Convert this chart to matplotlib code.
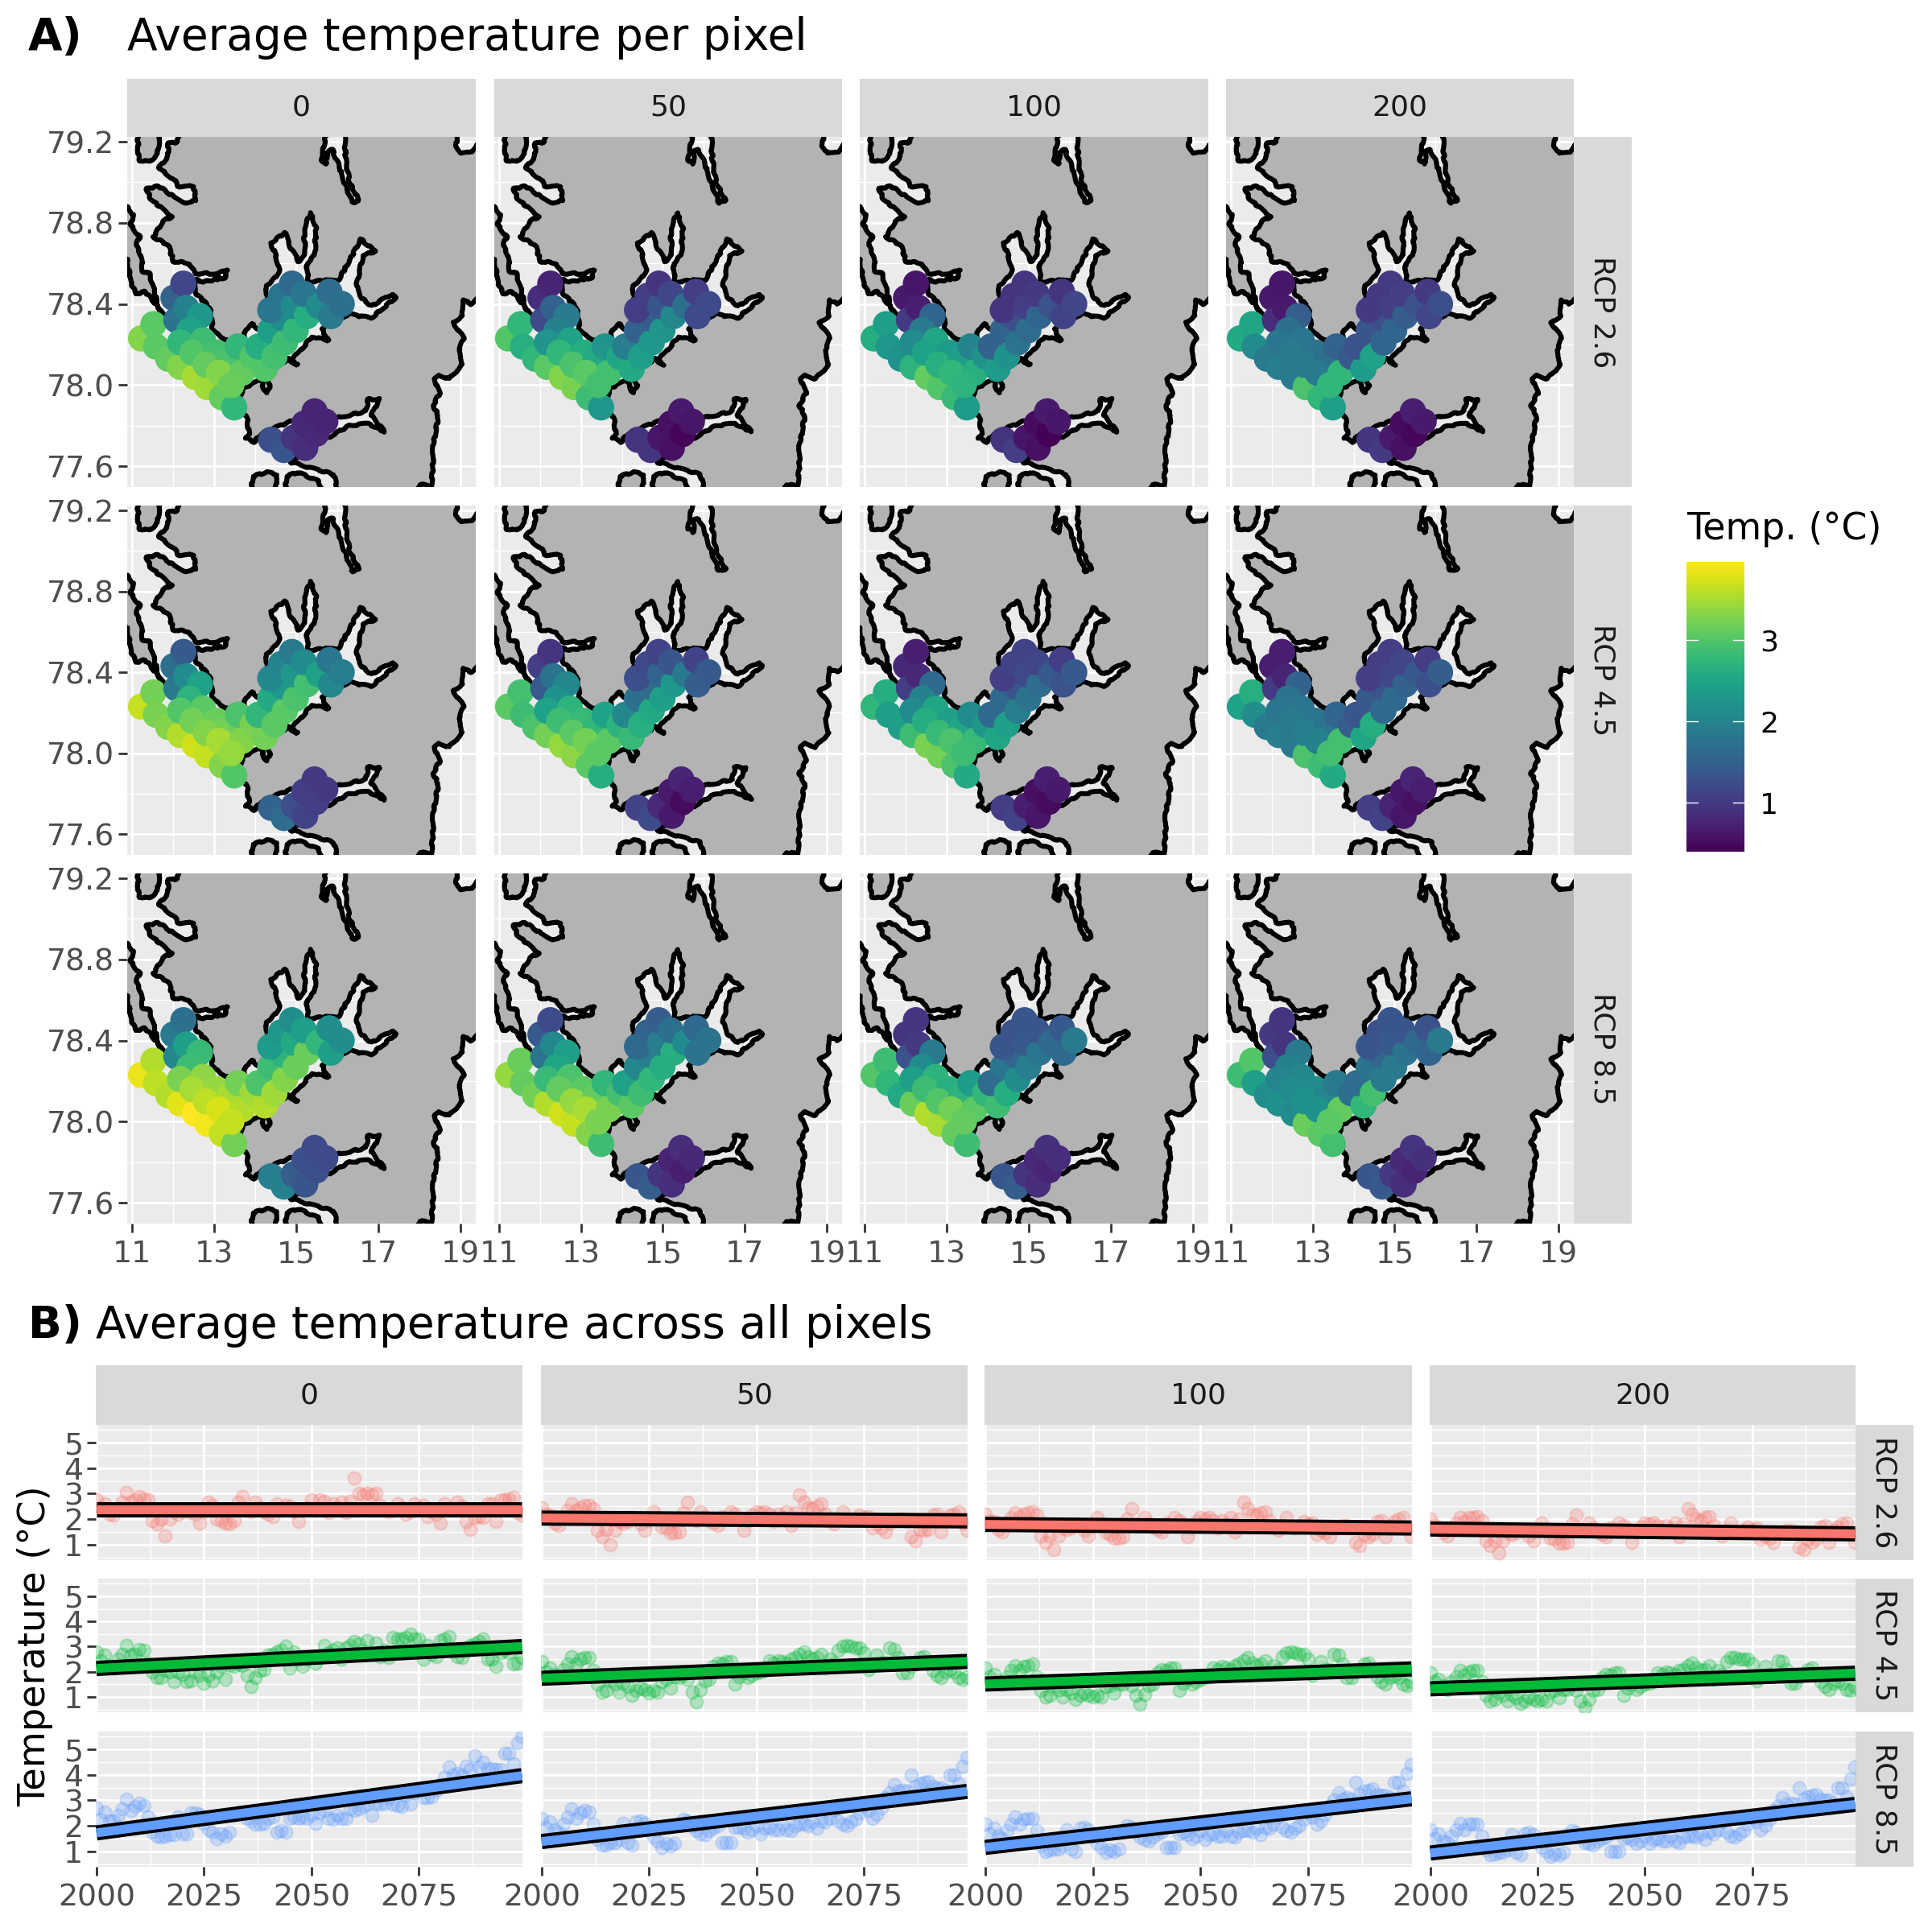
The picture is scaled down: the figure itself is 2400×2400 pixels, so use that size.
import numpy as np
import matplotlib
matplotlib.use("Agg")
import matplotlib.pyplot as plt
from matplotlib.patches import Polygon

depths = ["0", "50", "100", "200"]
scenarios = ["RCP 2.6", "RCP 4.5", "RCP 8.5"]
scenario_colors = ["#F8766D", "#00BA38", "#619CFF"]

# coastline (lon, lat)
coast_lon = [12.17, 12.11, 11.88, 11.88, 11.65, 12.04, 12.11, 12.50, 12.57, 12.30, 12.01, 11.65, 11.35, 11.45, 11.78, 11.98,
             11.75, 11.52, 11.88, 12.01, 12.40, 12.53, 13.09, 13.32, 13.26, 12.76, 12.50, 12.57, 12.90, 12.96, 13.12, 13.35,
             13.75, 13.75, 13.94, 14.11, 14.34, 14.27, 14.50, 14.60, 14.47, 14.37, 14.73, 14.86, 15.06, 15.22, 15.19, 15.35,
             15.49, 15.45, 15.26, 15.29, 16.04, 16.37, 16.57, 16.93, 16.63, 16.47, 16.60, 16.83, 17.35, 17.42, 16.83, 16.30,
             16.17, 15.62, 15.78, 15.39, 15.06, 14.86, 15.03, 14.80, 14.47, 14.21, 14.17, 14.27, 14.37, 14.27, 13.68, 13.65,
             13.81, 13.85, 13.75, 13.98, 14.14, 14.86, 15.78, 16.04, 16.70, 16.76, 17.03, 16.83, 17.16, 16.76, 16.30, 15.78,
             15.12, 14.86, 15.39, 15.91, 16.14, 17.68, 18.01, 18.30, 18.34, 18.34, 18.47, 18.34, 18.50, 18.37, 18.47, 18.73,
             19.06, 18.96, 19.09, 18.83, 19.06, 19.06, 19.26, 19.41, 19.70, 19.70, 19.41, 19.29, 19.03, 18.90, 18.96, 16.17,
             16.21, 16.30, 16.53, 16.37, 16.21, 16.01, 15.88, 15.75, 15.75, 15.62, 15.68, 15.78, 12.17]
coast_lat = [79.30, 79.20, 79.19, 79.13, 79.07, 79.01, 78.98, 78.98, 78.91, 78.90, 78.93, 78.98, 78.97, 78.92, 78.86, 78.83,
             78.81, 78.73, 78.69, 78.61, 78.60, 78.55, 78.55, 78.57, 78.53, 78.51, 78.52, 78.45, 78.38, 78.28, 78.24, 78.22,
             78.23, 78.27, 78.30, 78.27, 78.31, 78.49, 78.53, 78.57, 78.66, 78.70, 78.75, 78.68, 78.61, 78.64, 78.77, 78.85,
             78.77, 78.64, 78.60, 78.51, 78.52, 78.64, 78.72, 78.66, 78.64, 78.49, 78.43, 78.39, 78.45, 78.43, 78.33, 78.35,
             78.34, 78.28, 78.22, 78.24, 78.16, 78.12, 78.10, 78.13, 78.08, 78.04, 78.00, 77.96, 78.00, 78.04, 77.98, 77.90,
             77.83, 77.76, 77.74, 77.72, 77.76, 77.82, 77.82, 77.84, 77.87, 77.93, 77.93, 77.85, 77.77, 77.81, 77.80, 77.74,
             77.65, 77.62, 77.59, 77.56, 77.40, 77.40, 77.51, 77.50, 77.63, 77.70, 77.85, 77.90, 77.96, 78.03, 78.05, 78.03,
             78.10, 78.17, 78.23, 78.31, 78.34, 78.42, 78.40, 78.43, 78.43, 79.19, 79.19, 79.15, 79.14, 79.18, 79.30, 79.30,
             79.11, 79.00, 78.91, 78.90, 78.98, 79.10, 79.16, 79.15, 79.09, 79.11, 79.18, 79.30, 79.30]

forland_lon = [10.89, 11.03, 10.96, 11.19, 11.09, 11.22, 11.26, 11.42, 11.55, 11.65, 11.78, 11.62, 11.32, 11.09, 10.96, 10.89, 10.70, 10.70]
forland_lat = [78.88, 78.84, 78.79, 78.73, 78.69, 78.64, 78.56, 78.55, 78.46, 78.38, 78.34, 78.39, 78.46, 78.45, 78.51, 78.62, 78.62, 78.88]
north_lon = [11.12, 11.16, 11.42, 11.62, 11.71]
north_lat = [79.30, 79.11, 79.10, 79.14, 79.30]
south_a_lon = [13.88, 13.94, 14.27, 14.53, 14.47]
south_a_lat = [77.40, 77.55, 77.57, 77.56, 77.40]
south_b_lon = [14.73, 14.76, 15.03, 15.52, 15.91]
south_b_lat = [77.40, 77.55, 77.57, 77.53, 77.40]

# pixel centres
pixel_lon = [11.22, 11.52, 11.58, 11.88, 12.17, 12.53, 12.83, 13.19, 13.49, 12.01, 12.25, 12.08, 12.32, 12.65, 12.40, 12.17, 12.73,
             12.47, 13.06, 12.80, 13.35, 13.58, 13.12, 13.68, 13.42, 13.94, 14.24, 14.08, 14.47, 14.37, 14.73, 14.67, 14.99, 14.37,
             14.63, 14.94, 15.26, 14.90, 15.19, 15.55, 15.85, 15.81, 16.11, 14.39, 14.70, 14.94, 15.22, 15.20, 15.49, 15.45, 15.71]
pixel_lat = [78.23, 78.30, 78.19, 78.13, 78.09, 78.04, 77.99, 77.94, 77.89, 78.43, 78.50, 78.32, 78.38, 78.34, 78.27, 78.21, 78.22,
             78.16, 78.16, 78.10, 78.12, 78.19, 78.06, 78.06, 78.00, 78.14, 78.08, 78.19, 78.14, 78.27, 78.21, 78.33, 78.27, 78.37,
             78.44, 78.39, 78.34, 78.50, 78.45, 78.39, 78.34, 78.46, 78.40, 77.73, 77.68, 77.74, 77.69, 77.81, 77.76, 77.87, 77.82]

# mean temperature of each pixel
temp_26_0 = [3.3, 3.05, 3.05, 3.1, 3.3, 3.5, 3.45, 3.1, 2.75, 1.5, 1.15, 1.75, 1.95, 2.3, 2.45, 2.75, 2.85, 3.0, 2.9, 3.1, 2.95, 2.75, 3.3, 3.1, 3.15, 3.0,
             3.0, 2.6, 2.9, 2.4, 2.85, 2.1, 2.75, 1.8, 1.8, 2.1, 2.6, 1.6, 1.8, 2.1, 1.85, 1.65, 1.7, 1.25, 1.35, 0.95, 0.85, 0.8, 0.8, 0.75, 0.75]
temp_26_50 = [3.0, 2.75, 2.65, 2.75, 3.05, 3.3, 3.25, 2.85, 2.3, 0.85, 0.75, 1.2, 1.5, 1.85, 1.95, 2.25, 2.45, 2.75, 2.6, 2.95, 2.55, 2.25, 3.05, 2.9, 2.9, 2.5,
              2.55, 1.9, 2.4, 1.5, 2.3, 1.45, 2.25, 1.05, 1.05, 1.35, 2.05, 0.95, 1.15, 1.7, 1.2, 1.05, 1.2, 0.95, 0.95, 0.6, 0.55, 0.55, 0.45, 0.65, 0.6]
temp_26_100 = [2.6, 2.4, 2.3, 2.2, 2.7, 3.1, 3.0, 2.8, 2.35, 0.65, 0.6, 1.0, 0.7, 1.55, 1.85, 2.1, 2.5, 2.45, 2.35, 2.65, 2.4, 2.0, 2.75, 2.65, 2.7, 2.2,
               2.35, 1.5, 2.2, 1.5, 1.75, 1.25, 1.65, 0.95, 0.95, 1.05, 1.55, 0.95, 1.0, 1.3, 1.1, 0.95, 1.15, 0.95, 1.05, 0.6, 0.55, 0.5, 0.42, 0.65, 0.6]
temp_26_200 = [2.55, 2.5, 2.1, 1.85, 1.9, 1.85, 2.95, 2.75, 2.4, 0.65, 0.6, 0.85, 0.65, 1.45, 1.7, 1.8, 1.8, 1.85, 1.75, 1.85, 1.7, 1.5, 1.85, 2.75, 2.75, 1.4,
               2.35, 1.3, 2.45, 1.35, 1.55, 1.25, 1.55, 1.0, 1.0, 1.05, 1.45, 1.0, 1.05, 1.3, 1.15, 1.0, 1.25, 0.95, 1.0, 0.65, 0.55, 0.5, 0.45, 0.7, 0.65]
temp_45_0 = [3.65, 3.2, 3.25, 3.3, 3.55, 3.7, 3.65, 3.3, 3.0, 1.7, 1.4, 1.85, 2.1, 2.45, 2.7, 3.0, 3.05, 3.2, 3.15, 3.3, 3.2, 2.95, 3.5, 3.3, 3.4, 3.25,
             3.2, 2.75, 3.05, 2.55, 3.05, 2.3, 2.95, 2.05, 2.0, 2.3, 2.9, 1.85, 2.1, 2.45, 2.05, 1.8, 1.9, 1.5, 1.65, 1.25, 1.1, 1.05, 1.05, 1.0, 1.0]
temp_45_50 = [3.05, 2.9, 2.85, 2.95, 3.2, 3.4, 3.35, 3.05, 2.6, 1.05, 0.95, 1.4, 1.75, 2.05, 2.2, 2.45, 2.7, 2.85, 2.8, 3.05, 2.75, 2.45, 3.2, 3.05, 3.05, 2.7,
              2.8, 2.05, 2.65, 1.7, 2.55, 1.65, 2.4, 1.25, 1.2, 1.55, 2.3, 1.1, 1.35, 1.85, 1.45, 1.1, 1.4, 1.1, 1.2, 0.8, 0.65, 0.65, 0.5, 0.75, 0.7]
temp_45_100 = [2.75, 2.6, 2.4, 2.4, 2.85, 3.25, 3.2, 2.95, 2.55, 0.8, 0.7, 1.05, 0.8, 1.6, 1.95, 2.1, 2.5, 2.6, 2.4, 2.8, 2.5, 2.1, 2.95, 2.8, 2.85, 2.3,
               2.5, 1.6, 2.4, 1.6, 1.9, 1.35, 1.75, 1.05, 1.1, 1.2, 1.65, 1.1, 1.15, 1.4, 1.3, 1.05, 1.4, 1.05, 1.1, 0.7, 0.6, 0.55, 0.5, 0.7, 0.65]
temp_45_200 = [2.45, 2.65, 2.15, 1.85, 1.9, 1.85, 2.95, 2.85, 2.55, 0.7, 0.7, 1.0, 0.75, 1.5, 1.75, 1.8, 1.8, 1.85, 1.8, 1.9, 1.75, 1.55, 1.95, 2.9, 2.9, 1.45,
               2.5, 1.35, 2.6, 1.4, 1.6, 1.3, 1.6, 1.05, 1.05, 1.15, 1.5, 1.05, 1.15, 1.4, 1.25, 1.05, 1.45, 1.05, 1.1, 0.75, 0.6, 0.6, 0.55, 0.75, 0.7]
temp_85_0 = [3.85, 3.55, 3.6, 3.55, 3.8, 3.96, 3.9, 3.65, 3.2, 1.85, 1.7, 2.05, 2.4, 2.8, 2.85, 3.25, 3.35, 3.5, 3.4, 3.6, 3.5, 3.2, 3.75, 3.55, 3.65, 3.45,
             3.55, 2.95, 3.45, 2.85, 3.3, 2.7, 3.15, 2.35, 2.3, 2.55, 3.15, 2.15, 2.4, 2.75, 2.4, 2.15, 2.15, 1.9, 1.95, 1.45, 1.35, 1.25, 1.25, 1.2, 1.2]
temp_85_50 = [3.4, 3.15, 3.1, 3.2, 3.55, 3.7, 3.65, 3.3, 2.85, 1.4, 1.2, 1.75, 2.05, 2.4, 2.5, 2.8, 2.95, 3.1, 3.05, 3.4, 3.1, 2.75, 3.5, 3.25, 3.25, 2.9,
              3.05, 2.45, 2.85, 2.05, 2.75, 1.9, 2.6, 1.6, 1.55, 1.9, 2.65, 1.45, 1.7, 2.1, 1.75, 1.6, 1.75, 1.35, 1.45, 0.95, 0.85, 0.75, 0.7, 0.85, 0.8]
temp_85_100 = [3.0, 2.85, 2.75, 2.55, 3.15, 3.55, 3.5, 3.1, 2.85, 0.95, 0.95, 1.3, 1.0, 1.85, 2.1, 2.4, 2.7, 2.85, 2.65, 3.0, 2.7, 2.35, 3.2, 3.05, 3.1, 2.75,
               2.85, 1.65, 2.6, 1.8, 2.15, 1.55, 1.9, 1.35, 1.3, 1.4, 1.8, 1.35, 1.35, 1.6, 1.6, 1.4, 1.85, 1.35, 1.45, 0.95, 0.85, 0.8, 0.75, 0.9, 0.85]
temp_85_200 = [2.85, 3.0, 2.4, 2.15, 2.2, 2.1, 3.15, 3.05, 2.9, 1.0, 0.95, 1.25, 0.95, 1.85, 1.95, 2.0, 2.05, 2.1, 2.15, 2.2, 2.0, 1.85, 2.2, 3.1, 3.05, 1.7,
               2.75, 1.65, 2.9, 1.75, 1.85, 1.55, 1.85, 1.35, 1.3, 1.4, 1.75, 1.35, 1.35, 1.6, 1.55, 1.3, 1.85, 1.35, 1.4, 1.0, 0.85, 0.8, 0.75, 0.95, 0.9]

map_temps = [[temp_26_0, temp_26_50, temp_26_100, temp_26_200],
             [temp_45_0, temp_45_50, temp_45_100, temp_45_200],
             [temp_85_0, temp_85_50, temp_85_100, temp_85_200]]

# yearly average 2000-2099
series_26_0 = [2.75, 2.45, 2.6, 2.2, 2.15, 2.45, 2.65, 3.05, 2.65, 2.75, 2.9, 2.8, 2.75, 1.95, 1.8, 2.0, 1.35, 2.0, 2.3, 2.2,
               2.3, 2.35, 2.25, 2.2, 1.85, 2.3, 2.65, 2.55, 2.0, 1.95, 1.85, 1.8, 1.95, 2.65, 2.9, 2.35, 2.3, 2.65, 2.45, 2.3,
               2.2, 2.1, 2.6, 2.35, 2.55, 2.5, 2.3, 1.9, 2.35, 2.45, 2.75, 2.35, 2.75, 2.7, 2.25, 2.6, 2.45, 2.65, 2.25, 2.7,
               3.6, 3.0, 2.95, 3.0, 2.95, 3.0, 2.55, 2.35, 2.3, 2.35, 2.6, 2.45, 2.2, 2.3, 2.6, 2.45, 2.55, 2.1, 2.3, 2.2,
               1.85, 2.6, 2.4, 2.4, 2.65, 2.5, 1.9, 1.6, 2.05, 2.1, 2.05, 2.6, 2.6, 1.9, 2.75, 2.75, 2.8, 2.85, 2.25, 2.15]
series_26_50 = [2.43, 2.2, 2.15, 1.85, 1.75, 2.05, 2.35, 2.6, 2.35, 2.45, 2.55, 2.55, 2.4, 1.55, 1.3, 1.6, 1.0, 1.55, 1.9, 1.85,
                1.9, 2.05, 2.0, 1.8, 1.55, 1.95, 2.3, 2.05, 1.7, 1.65, 1.45, 1.45, 1.5, 2.25, 2.65, 2.05, 1.95, 2.3, 2.1, 1.95,
                1.85, 1.75, 2.1, 2.0, 2.3, 2.2, 2.0, 1.55, 1.95, 2.15, 2.3, 2.25, 2.3, 2.2, 1.9, 2.2, 2.05, 2.3, 1.75, 2.25,
                2.95, 2.65, 2.45, 2.4, 2.5, 2.6, 2.2, 1.95, 1.8, 2.0, 2.3, 1.95, 1.95, 2.0, 2.15, 2.05, 2.1, 1.65, 1.8, 1.65,
                1.5, 1.85, 1.95, 2.0, 2.0, 1.9, 1.3, 1.15, 1.6, 1.55, 1.6, 2.15, 2.2, 1.5, 2.0, 2.15, 2.2, 2.3, 1.85, 1.55]
series_26_100 = [2.2, 1.95, 1.9, 1.6, 1.5, 1.85, 2.05, 2.25, 2.1, 2.2, 2.25, 2.3, 2.15, 1.35, 1.1, 1.35, 0.8, 1.35, 1.65, 1.6,
                 1.65, 1.8, 1.75, 1.55, 1.35, 1.75, 2.05, 1.8, 1.45, 1.4, 1.25, 1.25, 1.3, 2.0, 2.4, 1.8, 1.75, 2.05, 1.85, 1.7,
                 1.6, 1.5, 1.85, 1.75, 2.05, 1.95, 1.8, 1.3, 1.7, 1.9, 2.05, 2.0, 2.05, 1.95, 1.65, 1.95, 1.8, 2.05, 1.5, 2.0,
                 2.65, 2.4, 2.2, 2.15, 2.25, 2.3, 1.95, 1.7, 1.55, 1.75, 2.05, 1.7, 1.65, 1.75, 1.9, 1.8, 1.85, 1.4, 1.55, 1.45,
                 1.3, 1.65, 1.7, 1.75, 1.75, 1.65, 1.1, 0.95, 1.4, 1.3, 1.4, 1.9, 1.95, 1.3, 1.75, 1.9, 2.0, 2.05, 1.65, 1.3]
series_26_200 = [2.0, 1.75, 1.7, 1.45, 1.35, 1.65, 1.85, 2.05, 1.9, 2.05, 2.05, 2.1, 1.95, 1.15, 0.95, 1.15, 0.67, 1.15, 1.45, 1.4,
                 1.45, 1.6, 1.55, 1.35, 1.15, 1.55, 1.85, 1.6, 1.25, 1.2, 1.05, 1.05, 1.1, 1.8, 2.15, 1.6, 1.55, 1.85, 1.65, 1.5,
                 1.4, 1.3, 1.65, 1.55, 1.85, 1.75, 1.6, 1.1, 1.5, 1.7, 1.85, 1.8, 1.85, 1.75, 1.45, 1.75, 1.6, 1.85, 1.3, 1.8,
                 2.4, 2.2, 2.0, 1.95, 2.05, 2.1, 1.75, 1.5, 1.35, 1.55, 1.85, 1.5, 1.45, 1.55, 1.7, 1.6, 1.65, 1.2, 1.35, 1.25,
                 1.1, 1.45, 1.5, 1.55, 1.55, 1.45, 0.9, 0.8, 1.2, 1.1, 1.2, 1.7, 1.75, 1.1, 1.55, 1.7, 1.8, 1.85, 1.45, 1.1]
series_45_0 = [2.8, 2.45, 2.65, 2.25, 2.15, 2.5, 2.7, 3.05, 2.65, 2.7, 2.9, 2.85, 2.35, 2.0, 1.75, 1.75, 2.05, 2.0, 1.6, 2.0,
               1.9, 1.6, 1.65, 2.0, 1.85, 1.55, 1.85, 1.65, 2.0, 2.2, 1.7, 2.25, 2.2, 2.3, 2.25, 1.85, 1.4, 1.75, 2.05, 2.1,
               2.65, 2.7, 2.8, 2.85, 3.0, 2.15, 2.8, 2.5, 2.2, 2.5, 2.6, 2.35, 2.55, 3.05, 2.75, 2.85, 2.95, 2.5, 2.95, 3.05,
               3.2, 3.1, 2.85, 3.25, 2.7, 3.15, 2.6, 2.85, 2.55, 3.35, 3.3, 3.3, 3.35, 3.5, 3.3, 3.3, 2.5, 3.05, 2.7, 2.6,
               3.25, 3.3, 3.4, 2.8, 2.6, 2.55, 2.85, 3.05, 3.1, 3.2, 3.3, 2.5, 2.5, 2.2, 2.75, 2.9, 2.75, 2.3, 2.35, 2.55]
series_45_50 = [2.4, 2.0, 2.15, 1.9, 1.75, 2.1, 2.3, 2.6, 2.3, 2.5, 2.55, 2.55, 2.05, 1.5, 1.2, 1.25, 1.65, 1.5, 1.2, 1.55,
                1.4, 1.05, 1.25, 1.35, 1.3, 1.15, 1.25, 1.2, 1.6, 1.7, 1.35, 1.8, 1.75, 1.9, 1.7, 1.2, 0.8, 1.3, 1.65, 1.7,
                2.2, 2.35, 2.3, 2.4, 2.4, 1.5, 1.8, 1.95, 1.75, 1.85, 1.95, 2.0, 2.05, 2.45, 2.35, 2.45, 2.4, 2.35, 2.5, 2.55,
                2.7, 2.8, 2.6, 2.5, 2.55, 2.7, 2.15, 2.5, 2.35, 2.85, 3.0, 3.05, 3.0, 2.95, 2.95, 2.75, 2.1, 2.25, 2.65, 2.35,
                2.35, 2.95, 2.9, 2.55, 1.95, 1.95, 2.2, 2.35, 2.55, 2.6, 2.35, 2.05, 1.85, 1.75, 2.0, 2.1, 2.0, 1.75, 1.7, 1.8]
series_45_100 = [2.15, 1.8, 1.9, 1.6, 1.5, 1.8, 2.05, 2.25, 2.05, 2.2, 2.25, 2.3, 1.8, 1.25, 1.0, 1.05, 1.4, 1.25, 1.0, 1.3,
                 1.15, 0.9, 1.05, 1.15, 1.05, 1.0, 1.05, 1.0, 1.4, 1.45, 1.15, 1.5, 1.5, 1.7, 1.45, 1.05, 0.72, 1.1, 1.45, 1.5,
                 1.95, 2.1, 2.05, 2.15, 2.15, 1.25, 1.55, 1.7, 1.5, 1.6, 1.7, 1.75, 1.8, 2.15, 2.1, 2.2, 2.15, 2.1, 2.25, 2.3,
                 2.45, 2.55, 2.35, 2.25, 2.3, 2.45, 1.9, 2.25, 2.1, 2.6, 2.75, 2.8, 2.75, 2.7, 2.7, 2.5, 1.85, 2.0, 2.4, 2.1,
                 2.1, 2.7, 2.65, 2.3, 1.75, 1.75, 2.0, 2.1, 2.3, 2.35, 2.1, 1.8, 1.6, 1.5, 1.75, 1.85, 1.75, 1.5, 1.45, 1.6]
series_45_200 = [1.95, 1.6, 1.7, 1.45, 1.3, 1.6, 1.8, 2.05, 1.85, 2.0, 2.05, 2.05, 1.6, 1.05, 0.85, 0.9, 1.2, 1.05, 0.85, 1.1,
                 0.95, 0.75, 0.85, 1.0, 0.9, 0.85, 0.9, 0.85, 1.2, 1.25, 0.95, 1.3, 1.3, 1.5, 1.25, 0.85, 0.58, 0.9, 1.25, 1.3,
                 1.75, 1.9, 1.85, 1.95, 1.95, 1.05, 1.35, 1.5, 1.3, 1.4, 1.5, 1.55, 1.6, 1.95, 1.9, 2.0, 1.95, 1.9, 2.05, 2.1,
                 2.25, 2.35, 2.15, 2.05, 2.1, 2.25, 1.7, 2.05, 1.9, 2.4, 2.55, 2.55, 2.5, 2.5, 2.5, 2.3, 1.65, 1.8, 2.2, 1.9,
                 1.9, 2.45, 2.4, 2.1, 1.55, 1.55, 1.8, 1.9, 2.1, 2.15, 1.9, 1.6, 1.4, 1.3, 1.55, 1.65, 1.55, 1.3, 1.25, 1.4]
series_85_0 = [2.7, 2.25, 2.55, 2.2, 2.2, 2.4, 2.65, 3.05, 2.6, 2.75, 2.9, 2.8, 2.35, 1.75, 1.6, 1.55, 1.6, 1.65, 1.65, 2.35,
               1.7, 1.7, 2.5, 2.5, 2.45, 2.1, 1.85, 1.75, 1.5, 1.7, 1.6, 1.75, 2.4, 2.5, 2.55, 2.3, 2.2, 2.05, 2.05, 2.1,
               2.3, 2.35, 1.75, 1.8, 1.75, 2.3, 2.35, 2.3, 2.35, 2.3, 2.45, 2.1, 2.5, 2.6, 2.3, 2.25, 2.4, 2.3, 2.3, 2.65,
               2.6, 2.65, 2.75, 2.85, 2.4, 2.9, 2.85, 2.9, 3.1, 2.85, 2.8, 2.75, 3.2, 2.85, 3.3, 3.45, 3.1, 3.1, 3.15, 3.4,
               3.6, 3.9, 4.3, 4.0, 4.05, 4.0, 4.35, 4.2, 4.75, 4.3, 4.5, 4.25, 4.25, 4.2, 4.2, 4.85, 4.85, 4.45, 5.25, 5.5]
series_85_50 = [2.3, 1.95, 2.15, 1.85, 1.75, 2.05, 2.35, 2.65, 2.3, 2.5, 2.6, 2.55, 2.05, 1.45, 1.25, 1.25, 1.35, 1.35, 1.45, 2.1,
                1.35, 1.25, 2.15, 2.2, 2.1, 1.85, 1.55, 1.4, 1.15, 1.3, 1.2, 1.3, 2.05, 2.25, 2.2, 2.0, 1.8, 1.7, 1.65, 1.8,
                1.95, 2.0, 1.35, 1.35, 1.35, 1.95, 1.95, 1.9, 1.75, 1.85, 2.0, 1.7, 1.9, 1.95, 1.85, 1.85, 2.05, 1.85, 1.8, 2.0,
                2.05, 2.05, 2.0, 2.15, 1.9, 2.2, 2.15, 2.3, 2.6, 2.2, 2.05, 2.0, 2.15, 2.25, 2.5, 2.75, 2.6, 2.3, 2.45, 2.7,
                3.1, 3.3, 3.6, 3.35, 3.4, 3.35, 4.0, 3.55, 3.65, 3.7, 3.75, 3.55, 3.5, 3.5, 3.4, 4.0, 4.0, 3.65, 4.35, 4.7]
series_85_100 = [2.05, 1.7, 1.9, 1.6, 1.5, 1.8, 2.05, 2.35, 2.05, 2.25, 2.3, 2.3, 1.8, 1.2, 1.0, 1.05, 1.1, 1.1, 1.2, 1.85,
                 1.1, 1.0, 1.9, 1.95, 1.85, 1.6, 1.3, 1.15, 0.95, 1.05, 1.0, 1.1, 1.85, 2.0, 1.95, 1.75, 1.55, 1.45, 1.4, 1.55,
                 1.7, 1.75, 1.15, 1.15, 1.15, 1.7, 1.75, 1.65, 1.5, 1.6, 1.8, 1.45, 1.65, 1.7, 1.6, 1.6, 1.8, 1.6, 1.55, 1.75,
                 1.8, 1.8, 1.75, 1.9, 1.65, 1.95, 1.9, 2.05, 2.35, 1.95, 1.8, 1.75, 1.9, 2.0, 2.25, 2.5, 2.35, 2.05, 2.2, 2.45,
                 2.8, 3.0, 3.3, 3.05, 3.1, 3.05, 3.7, 3.25, 3.35, 3.4, 3.45, 3.25, 3.2, 3.2, 3.1, 3.7, 3.7, 3.35, 4.05, 4.4]
series_85_200 = [1.85, 1.5, 1.7, 1.4, 1.35, 1.6, 1.85, 2.1, 1.85, 2.05, 2.05, 2.05, 1.6, 1.05, 0.85, 0.9, 0.95, 0.95, 1.05, 1.65,
                 0.95, 0.85, 1.7, 1.75, 1.65, 1.4, 1.15, 1.0, 0.8, 0.9, 0.85, 0.95, 1.65, 1.8, 1.75, 1.55, 1.35, 1.3, 1.25, 1.4,
                 1.5, 1.55, 1.0, 0.98, 1.0, 1.5, 1.55, 1.45, 1.3, 1.4, 1.6, 1.3, 1.45, 1.5, 1.4, 1.4, 1.6, 1.4, 1.35, 1.55,
                 1.6, 1.6, 1.55, 1.7, 1.45, 1.75, 1.7, 1.85, 2.15, 1.75, 1.6, 1.55, 1.7, 1.8, 2.05, 2.3, 2.15, 1.85, 2.0, 2.25,
                 2.6, 2.8, 3.1, 2.85, 2.9, 2.85, 3.48, 3.05, 3.15, 3.2, 3.25, 3.05, 3.0, 3.0, 2.9, 3.5, 3.5, 3.15, 3.85, 4.3]

yearly = [[series_26_0, series_26_50, series_26_100, series_26_200],
          [series_45_0, series_45_50, series_45_100, series_45_200],
          [series_85_0, series_85_50, series_85_100, series_85_200]]

# linear trend, value at 2000 and at 2099
trend_start = [[2.38, 2.04, 1.79, 1.61], [2.13, 1.74, 1.51, 1.32], [1.72, 1.38, 1.15, 0.93]]
trend_end = [[2.38, 1.93, 1.65, 1.42], [3.0, 2.41, 2.11, 1.94], [3.97, 3.35, 3.06, 2.84]]

TEMP_MIN = 0.40
TEMP_MAX = 3.96


def axes_px(fig, left, top, right, bottom):
    return fig.add_axes([left / 2400, 1 - bottom / 2400, (right - left) / 2400, (bottom - top) / 2400])


def strip(fig, left, top, right, bottom, label, rotation=0):
    ax = axes_px(fig, left, top, right, bottom)
    ax.set_facecolor("#D9D9D9")
    ax.set_xticks([])
    ax.set_yticks([])
    for s in ax.spines.values():
        s.set_visible(False)
    ax.text(0.5, 0.5, label, transform=ax.transAxes, ha="center", va="center", rotation=rotation,
            color="#1A1A1A", fontsize=13)


def style_panel(ax, xmajor, xminor, ymajor, yminor, show_x, show_y):
    ax.set_facecolor("#EBEBEB")
    for s in ax.spines.values():
        s.set_visible(False)
    ax.set_xticks(xmajor)
    ax.set_yticks(ymajor)
    ax.set_xticks(xminor, minor=True)
    ax.set_yticks(yminor, minor=True)
    ax.grid(True, which="major", color="white", lw=1.0)
    ax.grid(True, which="minor", color="white", lw=0.5)
    ax.set_axisbelow(True)
    ax.tick_params(which="minor", length=0)
    ax.tick_params(which="major", length=3.8, width=1.0, color="#333333", labelcolor="#4D4D4D",
                   labelsize=13.6, pad=2, bottom=show_x, left=show_y, labelbottom=show_x, labelleft=show_y)
    ax.tick_params(axis="x", which="major", pad=3.5)


def draw_map(ax, temps):
    for lon, lat in [(coast_lon, coast_lat), (forland_lon, forland_lat), (north_lon, north_lat),
                     (south_a_lon, south_a_lat), (south_b_lon, south_b_lat)]:
        land = Polygon(np.column_stack([lon, lat]), closed=True, facecolor="#B3B3B3",
                       edgecolor="black", lw=2.2, joinstyle="round", zorder=2)
        land.set_sketch_params(scale=1.0, length=40, randomness=12)
        ax.add_patch(land)
    ax.scatter(pixel_lon, pixel_lat, c=temps, cmap="viridis", vmin=TEMP_MIN, vmax=TEMP_MAX,
               s=138, linewidths=0, zorder=3)


def main():
    fig = plt.figure(figsize=(12, 12), dpi=200)

    # part A
    map_left = [158, 614, 1068, 1523]
    map_right = [591, 1046, 1501, 1955]
    map_top = [170, 628, 1085]
    map_bottom = [605, 1062, 1520]

    fig.text(35 / 2400, 1 - 62 / 2400, "A)", fontsize=19.8, fontweight="bold", va="baseline")
    fig.text(158 / 2400, 1 - 62 / 2400, "Average temperature per pixel", fontsize=19.8, va="baseline")

    for c in range(4):
        strip(fig, map_left[c], 98, map_right[c], 170, depths[c])
    for r in range(3):
        strip(fig, 1955, map_top[r], 2027, map_bottom[r], scenarios[r], rotation=-90)
        for c in range(4):
            ax = axes_px(fig, map_left[c], map_top[r], map_right[c], map_bottom[r])
            style_panel(ax, [11, 13, 15, 17, 19], [12, 14, 16, 18],
                        [77.6, 78.0, 78.4, 78.8, 79.2], [77.8, 78.2, 78.6, 79.0],
                        r == 2, c == 0)
            ax.set_xlim(10.88, 19.38)
            ax.set_ylim(77.497, 79.224)
            ax.set_yticklabels(["77.6", "78.0", "78.4", "78.8", "79.2"])
            draw_map(ax, map_temps[r][c])

    # legend
    fig.text(2095 / 2400, 1 - 670 / 2400, "Temp. (°C)", fontsize=16.5, va="baseline")
    cax = axes_px(fig, 2095, 698, 2167, 1058)
    cax.imshow(np.linspace(TEMP_MAX, TEMP_MIN, 256).reshape(-1, 1), cmap="viridis", vmin=TEMP_MIN, vmax=TEMP_MAX,
               aspect="auto", extent=[0, 1, TEMP_MIN, TEMP_MAX])
    for s in cax.spines.values():
        s.set_visible(False)
    cax.set_xticks([])
    cax.set_yticks([1, 2, 3])
    cax.yaxis.tick_right()
    cax.tick_params(length=0, pad=7, labelsize=13, labelcolor="black")
    for t in [1, 2, 3]:
        cax.plot([0, 0.2], [t, t], color="white", lw=0.5)
        cax.plot([0.8, 1], [t, t], color="white", lw=0.5)
    cax.set_xlim(0, 1)
    cax.set_ylim(TEMP_MIN, TEMP_MAX)

    # part B
    ts_left = [119, 672, 1223, 1776]
    ts_right = [649, 1202, 1754, 2305]
    ts_top = [1770, 1961, 2151]
    ts_bottom = [1938, 2127, 2319]
    years = np.arange(2000, 2100)

    fig.text(35 / 2400, 1 - 1662 / 2400, "B)", fontsize=19.8, fontweight="bold", va="baseline")
    fig.text(119 / 2400, 1 - 1662 / 2400, "Average temperature across all pixels", fontsize=19.8, va="baseline")
    fig.text(44 / 2400, 1 - 2045 / 2400, "Temperature (°C)", fontsize=16.6, rotation=90, ha="center", va="center")

    for c in range(4):
        strip(fig, ts_left[c], 1696, ts_right[c], 1770, depths[c])
    for r in range(3):
        strip(fig, 2305, ts_top[r], 2377, ts_bottom[r], scenarios[r], rotation=-90)
        for c in range(4):
            ax = axes_px(fig, ts_left[c], ts_top[r], ts_right[c], ts_bottom[r])
            style_panel(ax, [2000, 2025, 2050, 2075], [2012.5, 2037.5, 2062.5, 2087.5],
                        [1, 2, 3, 4, 5], [0.5, 1.5, 2.5, 3.5, 4.5, 5.5],
                        r == 2, c == 0)
            col = scenario_colors[r]
            ax.scatter(years, yearly[r][c], s=33, color=col, alpha=0.25, linewidths=0.8, zorder=3)
            ax.plot([2000, 2099], [trend_start[r][c], trend_end[r][c]], color="black", lw=6.8,
                    solid_capstyle="butt", zorder=4)
            ax.plot([2000, 2099], [trend_start[r][c], trend_end[r][c]], color=col, lw=4.0,
                    solid_capstyle="butt", zorder=5)
            ax.set_xlim(1999.85, 2099.1)
            ax.set_ylim(0.39, 5.70)

    fig.savefig("out.png", dpi=200)


main()
